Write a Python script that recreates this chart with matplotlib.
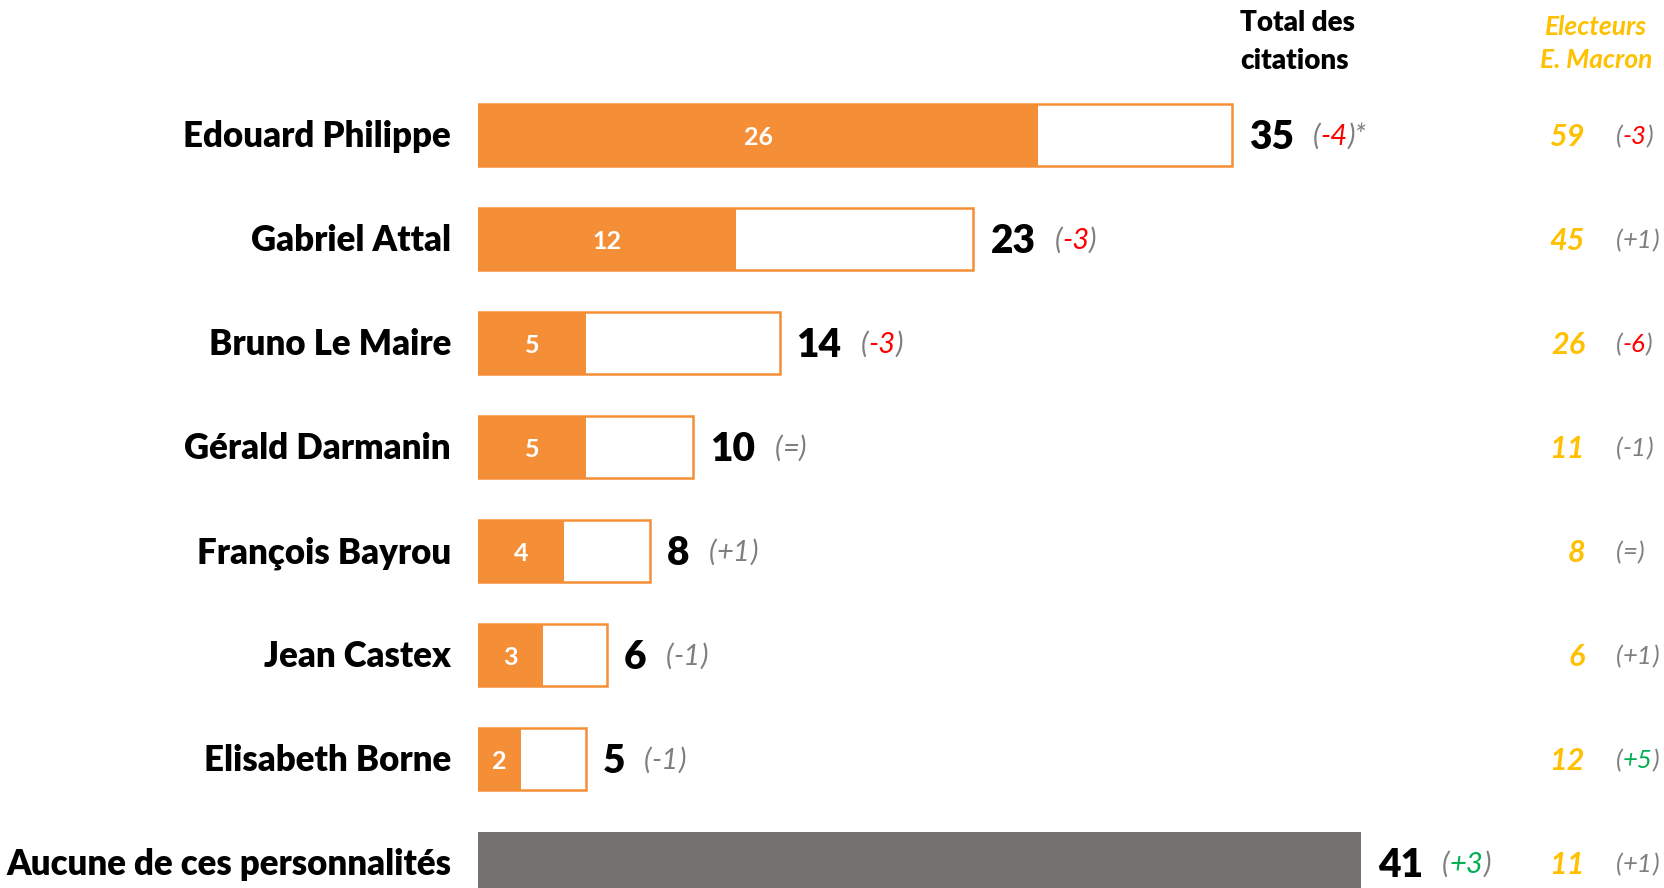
import matplotlib
matplotlib.use("Agg")
import matplotlib.pyplot as plt
from matplotlib.transforms import IdentityTransform

plt.rcParams['font.family'] = ['Lato', 'DejaVu Sans']

# données
names = ["Edouard Philippe", "Gabriel Attal", "Bruno Le Maire", "Gérald Darmanin",
         "François Bayrou", "Jean Castex", "Elisabeth Borne", "Aucune de ces personnalités"]
first_choice = [26, 12, 5, 5, 4, 3, 2, None]
total = [35, 23, 14, 10, 8, 6, 5, 41]
total_change = ["-4", "-3", "-3", "=", "+1", "-1", "-1", "+3"]
total_signif = [True, True, True, False, False, False, False, True]
macron = [59, 45, 26, 11, 8, 6, 12, 11]
macron_change = ["-3", "+1", "-6", "-1", "=", "+1", "+5", "+1"]
macron_signif = [True, False, True, False, False, False, True, False]

ORANGE = "#F58F37"
GREY_BAR = "#767171"
YELLOW = "#FFC000"
PAREN = "#7F7F7F"
RED = "#FF0000"
GREEN = "#00B050"

W, H = 1665, 888
fig = plt.figure(figsize=(W / 100, H / 100), dpi=100)

# axe : x=0 à 478 px, 21.54 px par point ; lignes espacées de 104 px
x0, px_unit = 478, 21.54
row0, row_step = 135, 104
ax = fig.add_axes([x0 / W, 0, 55 * px_unit / W, 1])
ax.set_xlim(0, 55)
ax.set_ylim((H - row0) / row_step, -row0 / row_step)
ax.axis('off')

bar_h = 62 / row_step
for i in range(len(names)):
    if first_choice[i] is None:
        ax.barh(i, total[i], height=bar_h, color=GREY_BAR, linewidth=0)
    else:
        ax.barh(i, total[i], height=bar_h, color='white', edgecolor=ORANGE, linewidth=1.8)
        ax.barh(i, first_choice[i], height=bar_h, color=ORANGE, linewidth=0)
        ax.text(first_choice[i] / 2, i, str(first_choice[i]), color='white',
                fontsize=18, fontweight='bold', ha='center', va='center_baseline')

renderer = fig.canvas.get_renderer()


def put(x, y, s, **kw):
    return fig.text(x, y, s, transform=IdentityTransform(), **kw)


def put_change(x, y, change, signif, size, extra=""):
    if change == "=" or not signif:
        col = PAREN
    elif change.startswith("-"):
        col = RED
    else:
        col = GREEN
    for s, c in [("(", PAREN), (change, col), (")" + extra, PAREN)]:
        t = put(x, y, s, color=c, fontsize=size, fontstyle='italic', ha='left', va='baseline')
        x = t.get_window_extent(renderer).x1


for i, name in enumerate(names):
    xe, yc = ax.transData.transform((total[i], i))
    # nom
    put(451, yc - 12, name, fontsize=25, fontweight='heavy', ha='right', va='baseline')
    # total
    t = put(xe + 17, yc - 14, str(total[i]), fontsize=28, fontweight='heavy',
            ha='left', va='baseline')
    xn = t.get_window_extent(renderer).x1
    put_change(xn + 19, yc - 10, total_change[i], total_signif[i], 21,
               extra="*" if i == 0 else "")
    # électeurs Macron
    put(1585, yc - 11, str(macron[i]), fontsize=22, fontweight='bold', fontstyle='italic',
        color=YELLOW, ha='right', va='baseline')
    put_change(1616, yc - 9, macron_change[i], macron_signif[i], 18.5)

# en-têtes
put(1240, H - 42, "Total des\ncitations", fontsize=20, fontweight='heavy',
    ha='left', va='center', linespacing=1.55)
put(1596, H - 43, "Electeurs\nE. Macron", fontsize=19, fontweight='bold', fontstyle='italic',
    color=YELLOW, ha='center', va='center', linespacing=1.45)

fig.savefig("out.png", dpi=100)
